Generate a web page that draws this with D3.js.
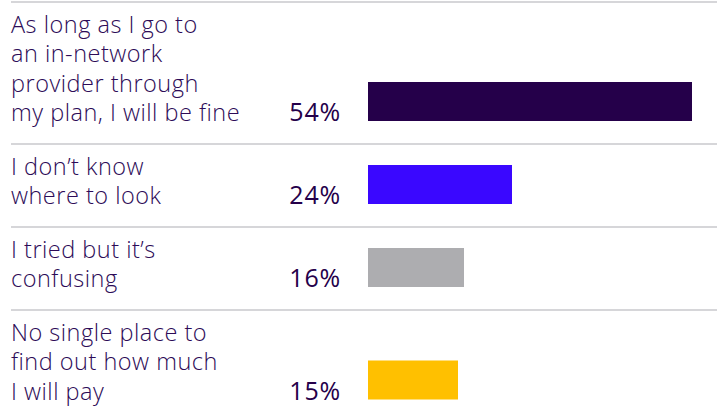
<!DOCTYPE html>
<html>
<head>
<meta charset="utf-8">
<script src="https://cdn.jsdelivr.net/npm/d3@7"></script>
<style>
  html, body { margin: 0; padding: 0; background: #ffffff; }
  svg { display: block; }
</style>
</head>
<body>
<script>
// Survey responses: label lines, share of respondents, bar colour
const categories = [
  ["As long as I go to", "an in-network", "provider through", "my plan, I will be fine"],
  ["I don\u2019t know", "where to look"],
  ["I tried but it\u2019s", "confusing"],
  ["No single place to", "find out how much", "I will pay"]
];
const values = [54, 24, 16, 15];
const barColors = ["#25004a", "#3a07ff", "#adadb0", "#ffc000"];

const W = 717, H = 417;
const lineH = 29.5, rowPad = 24, barH = 39;
const textColor = "#2d0b57";
const font = "'Open Sans', 'Noto Sans', sans-serif";

const svg = d3.select("body").append("svg")
  .attr("width", W).attr("height", H);

// horizontal value scale: 6px per percentage point
const x = d3.scaleLinear().domain([0, 100]).range([368, 968]);

// row layout depends on how many lines each label takes
let rowTop = 2;
const rows = categories.map((lines, i) => {
  const h = rowPad + lineH * lines.length;
  const r = { lines, value: values[i], color: barColors[i], y0: rowTop, h };
  rowTop += h;
  return r;
});

// separator rules
svg.selectAll("line.sep").data(rows).join("line")
  .attr("class", "sep")
  .attr("x1", 11).attr("x2", W)
  .attr("y1", d => d.y0).attr("y2", d => d.y0)
  .attr("stroke", "#c9c9cd").attr("stroke-width", 1.5);

const g = svg.selectAll("g.row").data(rows).join("g")
  .attr("class", "row")
  .attr("transform", d => `translate(0,${d.y0})`);

// category label, one tspan per line
g.append("text")
  .attr("font-family", font)
  .attr("font-weight", 300)
  .attr("font-size", 23.5)
  .attr("letter-spacing", 0.5)
  .attr("fill", textColor)
  .selectAll("tspan").data(d => d.lines).join("tspan")
  .attr("x", 11)
  .attr("y", (d, i) => 30.5 + i * lineH)
  .text(d => d);

// value label, aligned to last label line
g.append("text")
  .attr("x", 341)
  .attr("y", d => 30.5 + (d.lines.length - 1) * lineH)
  .attr("text-anchor", "end")
  .attr("font-family", font)
  .attr("font-weight", 500)
  .attr("font-size", 25)
  .attr("letter-spacing", 0.8)
  .attr("fill", "#25004a")
  .text(d => d.value + "%");

// bars
g.append("rect")
  .attr("x", x(0))
  .attr("y", d => d.h - 23 - barH)
  .attr("width", d => x(d.value) - x(0))
  .attr("height", barH)
  .attr("fill", d => d.color);
</script>
</body>
</html>
